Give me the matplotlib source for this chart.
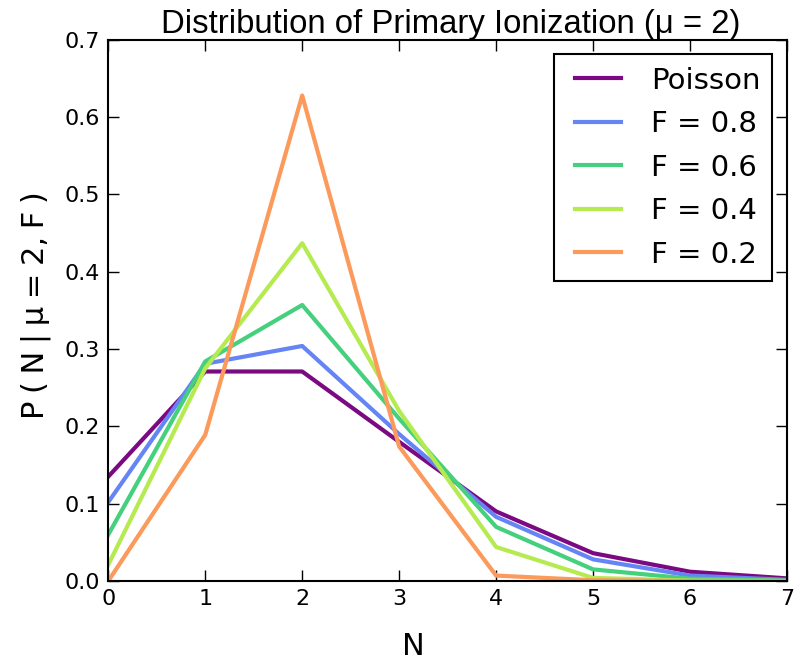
import matplotlib
matplotlib.use("Agg")
import matplotlib.pyplot as plt
from matplotlib.legend_handler import HandlerLine2D
from matplotlib.lines import Line2D

# values
n = [0, 1, 2, 3, 4, 5, 6, 7]
poisson = [0.135, 0.271, 0.271, 0.180, 0.090, 0.036, 0.012, 0.0034]
f08 = [0.102, 0.281, 0.304, 0.190, 0.083, 0.028, 0.007, 0.0015]
f06 = [0.060, 0.284, 0.357, 0.210, 0.070, 0.015, 0.003, 0.0005]
f04 = [0.021, 0.275, 0.437, 0.220, 0.044, 0.004, 0.0005, 0.0]
f02 = [0.0, 0.189, 0.628, 0.174, 0.007, 0.001, 0.0, 0.0]

series = [poisson, f08, f06, f04, f02]
labels = ["Poisson", "F = 0.8", "F = 0.6", "F = 0.4", "F = 0.2"]
colors = ["#7b0a82", "#6585f5", "#44d07c", "#b5eb50", "#fb9a5a"]

fig = plt.figure(figsize=(8.08, 6.64), dpi=100)
ax = fig.add_axes([0.134, 0.125, 0.840, 0.815])

for ys, lab, c in zip(series, labels, colors):
    ax.plot(n, ys, color=c, lw=3, label=lab)

ax.set_xlim(0, 7)
ax.set_ylim(0, 0.7)
ax.set_xticks(range(0, 8))
ax.set_yticks([0.0, 0.1, 0.2, 0.3, 0.4, 0.5, 0.6, 0.7])
ax.set_yticklabels(["%.1f" % v for v in ax.get_yticks()])

ax.tick_params(direction="in", top=True, right=True, length=8, width=1,
               labelsize=16, pad=6)
for sp in ax.spines.values():
    sp.set_linewidth(1.5)

# narrower spaces in the y label, as in the reference
sp4 = "\u2005"
ylab = sp4.join(["P", "(", "N", "|", "\u03bc", "=", "2,", "F", ")"])
ax.set_xlabel("N", fontsize=22)
ax.set_ylabel(ylab, fontsize=22)
ax.xaxis.set_label_coords(0.45, -0.095)
ax.yaxis.set_label_coords(-0.085, 0.51)
ax.set_title("Distribution of Primary Ionization (\u03bc = 2)",
             fontsize=23.7, family="Liberation Sans", pad=5, x=0.505)

# handle line starts a bit in from the frame, like the old legend
leg = ax.legend(loc="upper right", fontsize=21, fancybox=False,
                framealpha=1, edgecolor="black", handlelength=1.9,
                handletextpad=1.0, labelspacing=0.53, borderpad=0.42,
                borderaxespad=0.5,
                handler_map={Line2D: HandlerLine2D(xpad=0.3)})
leg.get_frame().set_linewidth(1.5)

fig.savefig("out.png", dpi=100)
